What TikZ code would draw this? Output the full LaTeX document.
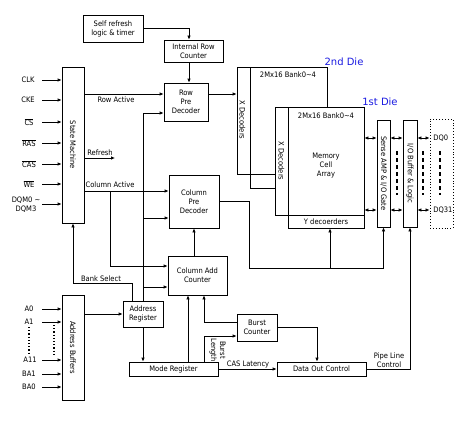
\documentclass[tikz,border=0pt]{standalone}
\usepackage{fontspec}
\setmainfont{DejaVu Sans Condensed}
\newfontfamily\diefont{DejaVu Sans}
\usetikzlibrary{arrows.meta,calc}
\definecolor{dieblue}{RGB}{25,25,225}
\begin{document}
\begin{tikzpicture}[x=1pt,y=-1pt,line width=0.75pt,
  every node/.style={font=\fontsize{7.5}{9}\selectfont,inner sep=0pt},
  box/.style={draw,fill=white,align=center},
  arr/.style={-{Latex[length=4pt,width=3.5pt]}},
  darr/.style={{Latex[length=4pt,width=3.5pt]}-{Latex[length=4pt,width=3.5pt]}},
  rot/.style={rotate=-90,align=center},
  dashbar/.style={line width=1.2pt,dash pattern=on 4pt off 3pt},
  dotbar/.style={line width=1.2pt,dotted},
  dietext/.style={text=dieblue,font=\diefont\fontsize{10}{12}\selectfont}]
\useasboundingbox (0,0) rectangle (465,420);

% ---------- boxes ----------
\node[box,minimum width=60,minimum height=27] (selfref) at (113,28.5) {Self refresh\\logic \& timer};
\node[box,minimum width=59,minimum height=22] (irc) at (193.5,51) {Internal Row\\Counter};
\node[box,minimum width=44,minimum height=38] (rpd) at (186,102) {Row\\Pre\\Decoder};
\node[box,minimum width=22,minimum height=156] (sm) at (73,145) {};
\node[rot] at (sm.center) {State Machine};
\node[box,minimum width=50,minimum height=53] (cpd) at (194,201.5) {Column\\Pre\\Decoder};
\node[box,minimum width=59,minimum height=39] (cac) at (197.5,275.5) {Column Add\\Counter};
\node[box,minimum width=40,minimum height=26] (ar) at (143,314) {Address\\Register};
\node[box,minimum width=22,minimum height=105] (ab) at (73,347.5) {};
\node[rot] at (ab.center) {Address Buffers};
\node[box,minimum width=89,minimum height=14] (mr) at (173.5,369) {Mode Register};
\node[box,minimum width=40,minimum height=27] (bc) at (257,327.5) {Burst\\Counter};
\node[box,minimum width=89,minimum height=14] (doc) at (321.5,369) {Data Out Control};

% ---------- 2nd die ----------
\node[box,minimum width=77,minimum height=121] (bank2) at (288.5,127.5) {};
\node[box,minimum width=13,minimum height=107] (xd2) at (243.5,120.5) {};
\node[rot] at (242.5,120) {X Decoders};
\node at (288,75) {2Mx16 Bank0\textasciitilde4};

% ---------- 1st die ----------
\node[box,minimum width=13,minimum height=108] (xd1) at (281.5,161) {};
\node[rot] at (xd1.center) {X Decoders};
\draw (xd2.south east) -- (xd2.south east -| xd1.west);
\node[box,minimum width=76,minimum height=108] (bank1) at (326,161) {};
\node at (326,116) {2Mx16 Bank0\textasciitilde4};
\node[align=center] at (326,166) {Memory\\Cell\\Array};
\node[box,minimum width=76,minimum height=13] (yd) at (326,221.5) {Y decoerders};
\node[dietext] at (344,62) {2nd Die};
\node[dietext] at (380,102) {1st Die};

\node[box,minimum width=13,minimum height=107] (sa) at (383.5,173.5) {};
\node[rot] at (sa.center) {Sense AMP \& I/O Gate};
\node[box,minimum width=14,minimum height=107] (io) at (410,173.5) {};
\node[rot] at (io.center) {I/O Buffer \& Logic};
\node[draw,dotted,line width=0.9pt,minimum width=23,minimum height=109] (dq) at (441.5,173.5) {};
\node[anchor=west] at (433,138) {DQ0};
\node[anchor=west] at (433,210) {DQ31};

% data path double arrows
\coordinate (yA) at (0,138);
\coordinate (yZ) at (0,210);
\foreach \yy in {yA,yZ}{
  \draw[darr] (bank1.east |- \yy) -- (sa.west |- \yy);
  \draw[darr] (sa.east |- \yy) -- (io.west |- \yy);
  \draw[darr] (io.east |- \yy) -- (dq.west |- \yy);
}
\draw[dashbar] (397,151) -- (397,195);
\draw[dashbar] (423,151) -- (423,195);
\draw[dashbar] (440,151) -- (440,195);

% ---------- inputs ----------
\coordinate (xin) at (42,0);
\node (lclk) at (28,80) {CLK};
\node (lcke) at (28,100) {CKE};
\node (lcs) at (29,122) {$\overline{\mbox{CS}}$};
\node (lras) at (29,143) {$\overline{\mbox{RAS}}$};
\node (lcas) at (29,164) {$\overline{\mbox{CAS}}$};
\node (lwe) at (29,184) {$\overline{\mbox{WE}}$};
\node[align=center] (ldqm) at (26,205) {DQM0 \textasciitilde\\DQM3};
\coordinate (ydqm) at (0,204);
\foreach \n in {lclk,lcke,lcs,lras,lcas,lwe}{
  \draw[arr] (xin |- \n) -- (sm.west |- \n);
}
\draw[arr] (xin |- ydqm) -- (sm.west |- ydqm);

\node (la0) at (29,309) {A0};
\node (la1) at (29,322) {A1};
\node (la11) at (30,360) {A11};
\node (lba1) at (29,374) {BA1};
\node (lba0) at (29,387) {BA0};
\foreach \n in {la0,la1,la11,lba1,lba0}{
  \draw[arr] (xin |- \n) -- (ab.west |- \n);
}
\draw[dotbar] (29,327) -- (29,354);
\draw[dotbar] (54,325) -- (54,354);

% ---------- control connectors ----------
\coordinate (c189) at ($(irc.north)+(-4.5,0)$);
\coordinate (d189) at ($(irc.south)+(-4.5,0)$);
\draw[arr] (selfref.east) -| (c189);
\draw[arr] (d189) -- (d189 |- rpd.north);

\coordinate (yRow) at (0,94);
\draw[arr] (sm.east |- yRow) -- (rpd.west |- yRow);
\node at (116,99.5) {Row Active};
\draw[arr] (rpd.east |- yRow) -- (xd2.west |- yRow);

\coordinate (refEnd) at (115,158);
\draw[arr] (sm.east |- refEnd) -- (refEnd);
\node at (100,152.5) {Refresh};

\coordinate (yCol) at (0,191);
\coordinate (br) at (110,191);
\coordinate (yCac1) at (0,266);
\draw[arr] (sm.east |- yCol) -- (cpd.west |- yCol);
\draw[arr] (br) |- (cac.west |- yCac1);
\node at (110,185) {Column Active};

\coordinate (bus) at (143,113);
\coordinate (yCpd2) at (0,218);
\coordinate (yCac2) at (0,287);
\draw (ar.north) -- (bus);
\draw[arr] (bus) -- (rpd.west |- bus);
\draw[arr] (ar.north |- yCpd2) -- (cpd.west |- yCpd2);
\draw[arr] (ar.north |- yCac2) -- (cac.west |- yCac2);

\coordinate (bs) at (132,283);
\draw[arr] (ar.north -| bs) -- (bs) -| (sm.south);
\node at (101,278.5) {Bank Select};

\draw[arr] (ab.east |- ar.west) -- (ar.west);
\draw[arr] (ar.south) -- (ar.south |- mr.north);

\coordinate (x188) at (188,0);
\coordinate (x204) at (204,0);
\coordinate (y336) at (0,336);
\coordinate (y322) at (0,322);
\coordinate (x317) at (317,0);
\draw[arr] (mr.north -| x188) -- (cac.south -| x188);
\draw[arr] (mr.north -| x204) |- (bc.west |- y336);
\draw[arr] (bc.west |- y322) -| (cac.south -| x204);
\draw[arr] (bc.east) -| (doc.north -| x317);
\node[rot] at (217.5,350) {Burst\\Length};
\draw[arr] (mr.east) -- (doc.west);
\node at (248,364) {CAS Latency};
\draw[arr] (doc.east) -| (io.south);
\node[align=center] at (389,360) {Pipe Line\\Control};

\draw[arr] (cac.north -| cpd.south) -- (cpd.south);
\coordinate (yB) at (0,268);
\coordinate (x249) at (249,0);
\coordinate (x330) at (330,0);
\draw (cpd.east) -| (x249 |- yB) -- (sa.south |- yB);
\draw[arr] (x330 |- yB) -- (x330 |- yd.south);
\draw[arr] (sa.south |- yB) -- (sa.south);
\end{tikzpicture}
\end{document}
